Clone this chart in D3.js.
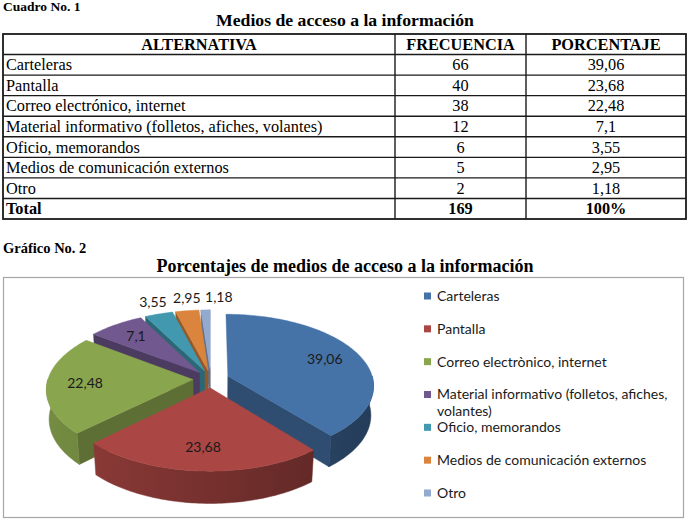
<!DOCTYPE html>
<html>
<head>
<meta charset="utf-8">
<script src="https://cdn.jsdelivr.net/npm/d3@7"></script>
<style>
  body { margin: 0; background: #fff; }
  svg { display: block; }
</style>
</head>
<body>
<svg id="chart" width="690" height="521"></svg>
<script>
// ---- data ----
const encabezados = ["ALTERNATIVA", "FRECUENCIA", "PORCENTAJE"];
const alternativas = ["Carteleras", "Pantalla", "Correo electrónico, internet",
  "Material informativo (folletos, afiches, volantes)", "Oficio, memorandos",
  "Medios de comunicación externos", "Otro"];
const frecuencias = [66, 40, 38, 12, 6, 5, 2];
const porcentajes = [39.06, 23.68, 22.48, 7.1, 3.55, 2.95, 1.18];
const fila_total = ["Total", "169", "100%"];
const leyenda = [["Carteleras"], ["Pantalla"], ["Correo electrònico, internet"],
  ["Material informativo (folletos, afiches,", "volantes)"], ["Oficio, memorandos"],
  ["Medios de comunicación externos"], ["Otro"]];
const colores = ["#4572A7", "#AA4643", "#89A54E", "#71588F", "#4198AF", "#DB843D", "#93A9CF"];

const fmt = v => String(v).replace(".", ",");
const svg = d3.select("#chart");
const serif = "'Liberation Serif', 'Times New Roman', serif";
const sans = "Lato, 'Open Sans', sans-serif";

// ---- captions ----
svg.append("text").attr("x", 3).attr("y", 11)
  .style("font", "bold 13.5px " + serif).text("Cuadro No. 1");
svg.append("text").attr("x", 345).attr("y", 26).attr("text-anchor", "middle")
  .style("font", "bold 17.7px " + serif).text("Medios de acceso a la información");
svg.append("text").attr("x", 3).attr("y", 253)
  .style("font", "bold 14.5px " + serif).text("Gráfico No. 2");
svg.append("text").attr("x", 345).attr("y", 272).attr("text-anchor", "middle")
  .style("font", "bold 18px " + serif).text("Porcentajes de medios de acceso a la información");

// ---- table ----
const filas = [encabezados]
  .concat(alternativas.map((a, i) => [a, String(frecuencias[i]), fmt(porcentajes[i])]))
  .concat([fila_total]);
const colEdges = [3, 395, 526, 686];
const y = d3.scaleBand().domain(d3.range(filas.length)).range([34, 219]);
const tabla = svg.append("g");

tabla.selectAll("line.h").data(d3.range(1, filas.length)).enter().append("line")
  .attr("x1", colEdges[0]).attr("x2", colEdges[3])
  .attr("y1", d => y(d)).attr("y2", d => y(d))
  .attr("stroke", "#1a1a1a").attr("stroke-width", 1.4);
tabla.selectAll("line.v").data(colEdges.slice(1, 3)).enter().append("line")
  .attr("x1", d => d).attr("x2", d => d)
  .attr("y1", y.range()[0]).attr("y2", y.range()[1])
  .attr("stroke", "#1a1a1a").attr("stroke-width", 1.4);
tabla.append("rect")
  .attr("x", colEdges[0]).attr("y", y.range()[0])
  .attr("width", colEdges[3] - colEdges[0]).attr("height", y.range()[1] - y.range()[0])
  .attr("fill", "none").attr("stroke", "#1a1a1a").attr("stroke-width", 1.8);

filas.forEach((fila, r) => {
  const bold = r === 0 || r === filas.length - 1;
  fila.forEach((txt, c) => {
    const centered = c > 0 || r === 0;
    tabla.append("text")
      .attr("x", centered ? (colEdges[c] + colEdges[c + 1]) / 2 : colEdges[0] + 3)
      .attr("y", y(r) + y.bandwidth() / 2 + 5.5)
      .attr("text-anchor", centered ? "middle" : "start")
      .style("font", (bold ? "bold " : "") + "16.3px " + serif)
      .text(txt);
  });
});

// ---- chart box ----
svg.append("rect").attr("x", 3.5).attr("y", 277.5).attr("width", 680).attr("height", 240)
  .attr("fill", "none").attr("stroke", "#a6a6a6").attr("stroke-width", 1.2);

// ---- 3D pie ----
const P = { cx: 211, cy: 379, R: 145, tilt: 29 * Math.PI / 180, D: 1000, h: 34, explode: 18 };
const cosT = Math.cos(P.tilt), sinT = Math.sin(P.tilt);
function proj(X, Y, Z) {
  const yp = Y * cosT - Z * sinT, zp = Y * sinT + Z * cosT;
  const s = P.D / (P.D - zp);
  return [P.cx + X * s, P.cy - yp * s];
}
const arcs = d3.pie().sort(null).value(d => d)(porcentajes);
arcs.forEach((a, i) => {
  a.mid = (a.startAngle + a.endAngle) / 2;
  a.ox = P.explode * Math.sin(a.mid);
  a.oz = -P.explode * Math.cos(a.mid);
  a.color = colores[i];
  a.i = i;
});
const pt = (a, ang, r, Y) => proj(a.ox + r * Math.sin(ang), Y, a.oz - r * Math.cos(ang));
const arcPts = (a, a0, a1, Y) => {
  const n = Math.max(2, Math.ceil((a1 - a0) / 0.02));
  return d3.range(n + 1).map(k => pt(a, a0 + (a1 - a0) * k / n, P.R, Y));
};
const line = d3.line().curve(d3.curveLinear);

const defs = svg.append("defs");
arcs.forEach(a => {
  const g = defs.append("linearGradient").attr("id", "wall" + a.i)
    .attr("gradientUnits", "userSpaceOnUse")
    .attr("x1", P.cx - P.R - 20).attr("x2", P.cx + P.R + 20).attr("y1", 0).attr("y2", 0);
  g.append("stop").attr("offset", 0).attr("stop-color", d3.color(a.color).darker(0.45));
  g.append("stop").attr("offset", 1).attr("stop-color", d3.color(a.color).darker(1.8));
});

const pieG = svg.append("g");
const order = arcs.slice().sort((p, q) => Math.cos(q.mid) - Math.cos(p.mid));
order.forEach(a => {
  const g = pieG.append("g");
  const apexT = proj(a.ox, 0, a.oz), apexB = proj(a.ox, -P.h, a.oz);
  const face = ang => [apexT, pt(a, ang, P.R, 0), pt(a, ang, P.R, -P.h), apexB];
  const cutCol = d3.color(a.color).darker(1.1);
  if (Math.sin(a.startAngle) < -1e-6)
    g.append("path").attr("d", line(face(a.startAngle)) + "Z")
      .attr("fill", cutCol).attr("stroke", cutCol).attr("stroke-width", 0.5);
  if (Math.sin(a.endAngle) > 1e-6)
    g.append("path").attr("d", line(face(a.endAngle)) + "Z")
      .attr("fill", cutCol).attr("stroke", cutCol).attr("stroke-width", 0.5);
  const w0 = Math.max(a.startAngle, Math.PI / 2), w1 = Math.min(a.endAngle, 3 * Math.PI / 2);
  if (w1 > w0) {
    const pts = arcPts(a, w0, w1, 0).concat(arcPts(a, w0, w1, -P.h).reverse());
    g.append("path").attr("d", line(pts) + "Z")
      .attr("fill", "url(#wall" + a.i + ")").attr("stroke", "url(#wall" + a.i + ")").attr("stroke-width", 0.5);
  }
  const top = [apexT].concat(arcPts(a, a.startAngle, a.endAngle, 0));
  g.append("path").attr("d", line(top) + "Z")
    .attr("fill", a.color).attr("stroke", a.color).attr("stroke-width", 0.5);
});

// labels
const labG = svg.append("g").style("font", "14px " + sans).attr("fill", "#1a1a1a");
const outside = [];
arcs.forEach(a => {
  if (a.data >= 5) {
    const p = pt(a, a.mid, P.R * 0.74, 0);
    labG.append("text").attr("x", p[0]).attr("y", p[1]).attr("dy", "0.35em")
      .attr("text-anchor", "middle").text(fmt(a.data));
  } else {
    const p = pt(a, a.mid, P.R + 36, 0);
    outside.push({ a, x: p[0], y: p[1] });
  }
});
outside.sort((p, q) => p.x - q.x);
for (let k = 1; k < outside.length; k++)
  outside[k].x = Math.max(outside[k].x, outside[k - 1].x + 32);
outside.forEach(o => {
  labG.append("text").attr("x", o.x + 4).attr("y", o.y).attr("dy", "0.35em")
    .attr("text-anchor", "middle").text(fmt(o.a.data));
});

// legend
const lg = svg.append("g").style("font", "14px " + sans).attr("fill", "#1a1a1a");
const ly = d3.scalePoint().domain(d3.range(leyenda.length)).range([296, 493]);
leyenda.forEach((lines, i) => {
  lg.append("rect").attr("x", 424).attr("y", ly(i) - 3.5).attr("width", 7).attr("height", 7)
    .attr("fill", colores[i]);
  lines.forEach((t, k) => {
    lg.append("text").attr("x", 437).attr("y", ly(i) + k * 17).attr("dy", "0.35em").text(t);
  });
});
</script>
</body>
</html>
